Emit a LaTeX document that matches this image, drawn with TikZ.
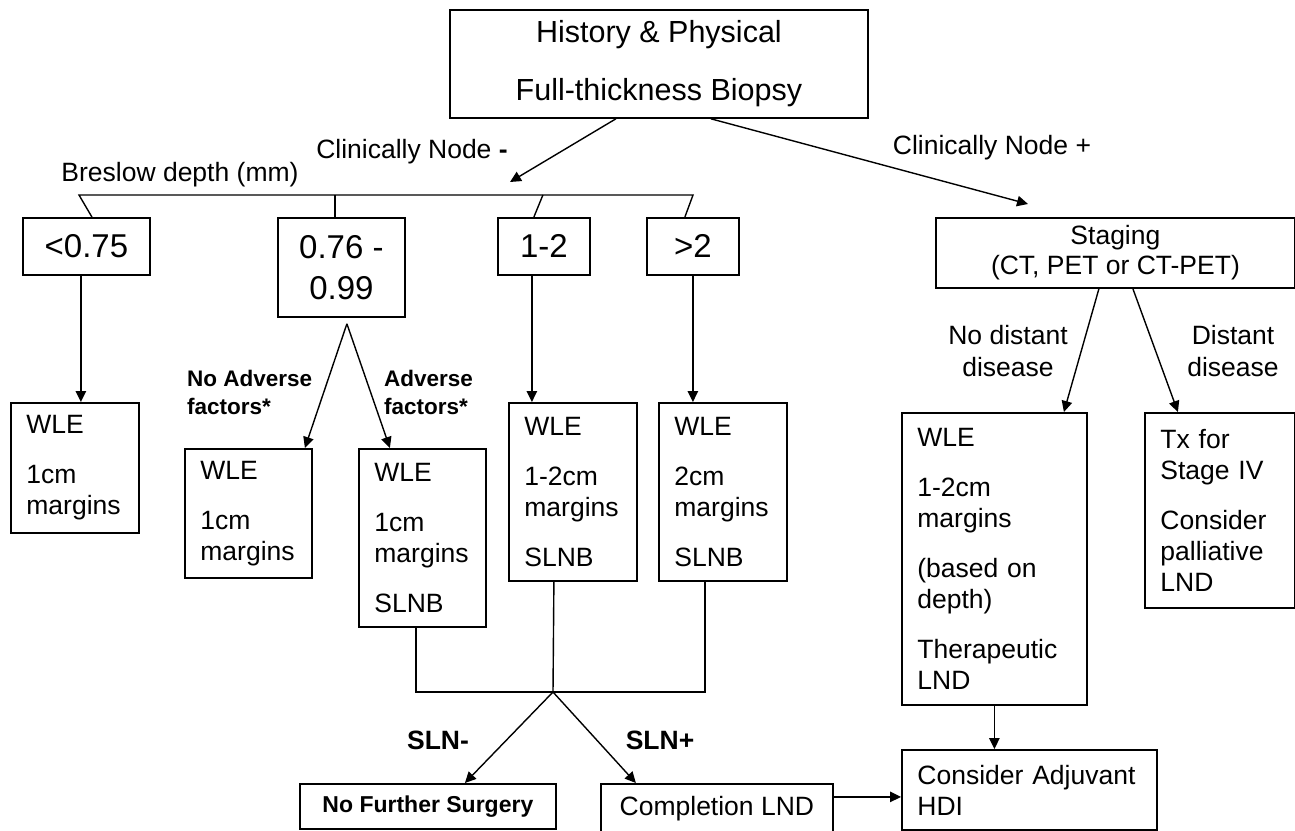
\documentclass[tikz,border=0pt]{standalone}
\usepackage{fontspec}
\setmainfont{Liberation Sans}
\usetikzlibrary{arrows.meta,calc}
\tikzset{
  box/.style={draw, line width=1.8pt, inner sep=0pt, anchor=north west},
  tbox/.style={box, inner xsep=15.5pt, align=left, font=\fontsize{26.5}{31}\selectfont},
  conn/.style={line width=1.4pt},
  arr/.style={conn, -{Triangle[length=11pt,width=10.5pt]}},
  lbl/.style={inner sep=0pt, align=center, font=\fontsize{26.5}{32}\selectfont},
  blbl/.style={inner sep=0pt, align=left, anchor=west, font=\bfseries\fontsize{22.5}{28}\selectfont},
  slbl/.style={inner sep=0pt, font=\bfseries\fontsize{26.5}{32}\selectfont},
}
\begin{document}
\begin{tikzpicture}[x=1pt,y=-1pt]
\useasboundingbox (0,0) rectangle (1295,830);
\clip (0,0) rectangle (1295,830);

% top
\node[box, minimum width=418pt, minimum height=108pt, align=center, font=\fontsize{30.5}{58}\selectfont] (top) at (449,9) {History \& Physical\\Full-thickness Biopsy};

% row 1
\node[box, minimum width=127pt, minimum height=57pt, font=\fontsize{33}{41}\selectfont] (b1) at (22,217) {<0.75};
\node[box, minimum width=127pt, minimum height=99pt, align=center, font=\fontsize{33}{41}\selectfont] (b2) at (277,217) {0.76 -\\0.99};
\node[box, minimum width=92pt, minimum height=57pt, font=\fontsize{33}{41}\selectfont] (b3) at (497,217) {1-2};
\node[box, minimum width=92pt, minimum height=57pt, font=\fontsize{33}{41}\selectfont] (b4) at (646,217) {>2};
\node[box, minimum width=359pt, minimum height=70pt, align=center, font=\fontsize{26.5}{30}\selectfont] (st) at (935,217) {Staging\\(CT, PET or CT-PET)};

% row 2
\node[tbox, text width=97pt, minimum width=128pt, minimum height=130pt] (w1) at (10,402) {WLE\\[19pt]1cm\\margins};
\node[tbox, text width=96pt, minimum width=127pt, minimum height=129pt] (w2) at (184,448) {WLE\\[19pt]1cm\\margins};
\node[tbox, text width=96pt, minimum width=127pt, minimum height=178pt] (w3) at (358,448) {WLE\\[19pt]1cm\\margins\\[19pt]SLNB};
\node[tbox, text width=97pt, minimum width=128pt, minimum height=178pt] (w4) at (508,402) {WLE\\[19pt]1-2cm\\margins\\[19pt]SLNB};
\node[tbox, text width=97pt, minimum width=128pt, minimum height=178pt] (w5) at (658,402) {WLE\\[19pt]2cm\\margins\\[19pt]SLNB};
\node[tbox, text width=154pt, minimum width=185pt, minimum height=292pt] (w6) at (901,412) {WLE\\[19pt]1-2cm\\margins\\[19pt](based on\\depth)\\[19pt]Therapeutic\\LND};
\node[tbox, text width=119pt, minimum width=150pt, minimum height=195pt] (w7) at (1144,412) {Tx for\\Stage IV\\[19pt]Consider\\palliative\\LND};

% bottom
\node[box, minimum width=256pt, minimum height=45pt, font=\bfseries\fontsize{23}{28}\selectfont] (nfs) at (299,783) {No Further Surgery};
\node[box, minimum width=232pt, minimum height=50pt, font=\fontsize{26.5}{31}\selectfont] (cmp) at (600,783) {Completion LND};
\node[tbox, text width=224pt, minimum width=255pt, minimum height=80pt] (adj) at (901,749) {Consider Adjuvant\\HDI};

% labels
\node[lbl] (lneg) at (412,152) {Clinically Node \textbf{-}};
\node[lbl] (lpos) at (992,148) {Clinically Node +};
\node[lbl] (lbres) at (180,175) {Breslow depth (mm)};
\node[blbl] (lnoadv) at (187,392) {No Adverse\\factors*};
\node[blbl] (ladv) at (384,392) {Adverse\\factors*};
\node[lbl] (lnod) at (1008,351) {No distant\\disease};
\node[lbl] (ldis) at (1233,351) {Distant\\disease};
\node[slbl] (lsn) at (438,740) {SLN-};
\node[slbl] (lsp) at (660,740) {SLN+};

% free ends
\coordinate (nm) at (510,182);
\coordinate (np) at (1028,204);
\coordinate (brL) at (79,195);
\coordinate (brR) at (693,195);
\coordinate (apex) at ($(b2.south)+(5.5,6)$);
\coordinate (jn) at (553,692);

% connectors top
\draw[arr] ([xshift=-43pt]top.south) -- (nm);
\draw[arr] ([xshift=52pt]top.south) -- (np);

% bracket
\draw[conn] ([xshift=5.5pt]b1.north) -- (brL) -- (brR) -- ([xshift=-8pt]b4.north);
\draw[conn] ([xshift=-6.5pt]b2.north) -- ++(0,-22);
\draw[conn] ([xshift=-10pt]b3.north) -- ++(9,-22);

% row1 -> row2
\draw[arr] ([xshift=-5.5pt]b1.south) -- ([xshift=-5.5pt]b1.south |- w1.north);
\draw[arr] (apex) -- ($(w2.north)+(56.5,0)$);
\draw[arr] (apex) -- ($(w3.north)+(-32.5,0)$);
\draw[arr] ([xshift=-12pt]b3.south) -- ([xshift=-12pt]b3.south |- w4.north);
\draw[arr] (b4.south) -- (b4.south |- w5.north);
\draw[arr] ([xshift=-16.5pt]st.south) -- ($(w6.north)+(69.5,0)$);
\draw[arr] ([xshift=17.5pt]st.south) -- ($(w7.north)+(-42,0)$);

% SLNB merge
\draw[conn] ([xshift=-6.5pt]w3.south) |- ([xshift=-18pt]w5.south |- jn) -- ([xshift=-18pt]w5.south);
\draw[conn] ([xshift=-19pt]w4.south) -- (jn);
\draw[arr] (jn) -- ([xshift=37pt]nfs.north);
\draw[arr] (jn) -- ([xshift=-81pt]cmp.north);

% to adjuvant
\draw[arr] ([yshift=12pt]cmp.east) -- ([yshift=12pt]cmp.east -| adj.west);
\draw[arr] (w6.south) -- (w6.south |- adj.north);
\end{tikzpicture}
\end{document}
